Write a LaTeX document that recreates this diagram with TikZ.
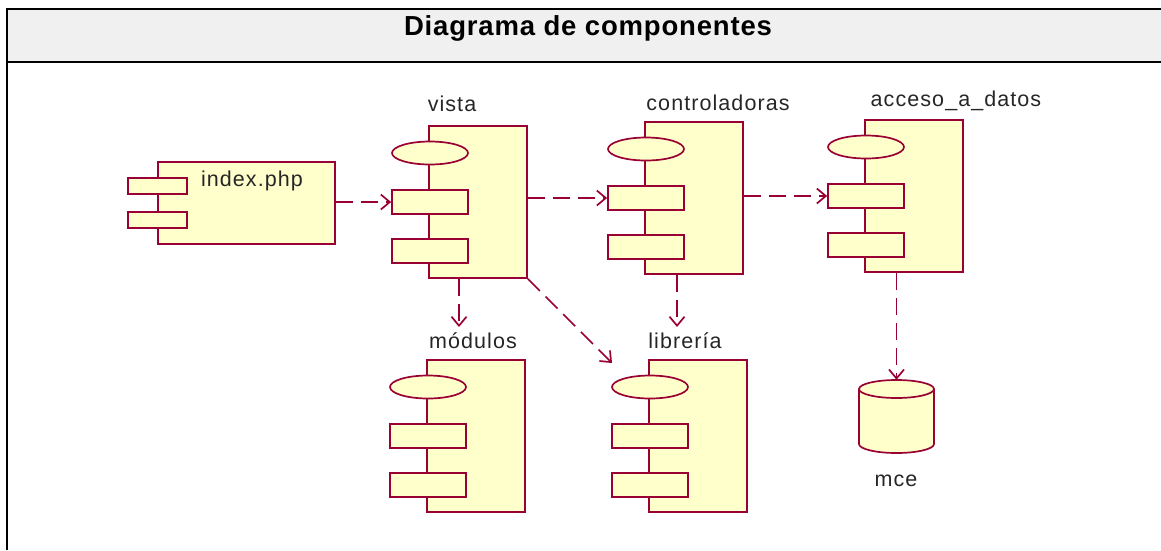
\documentclass[tikz,border=0pt]{standalone}
\usepackage{fontspec}
\setmainfont{Liberation Sans}
\usetikzlibrary{arrows.meta,shapes.geometric}
\definecolor{rose}{RGB}{153,0,51}
\definecolor{cfill}{RGB}{255,255,204}
\definecolor{hdr}{RGB}{240,240,240}
\tikzset{
  body/.style={rectangle, draw=rose, fill=cfill, line width=1.7pt, minimum width=98pt, minimum height=152pt, inner sep=0pt},
  port/.style={rectangle, draw=rose, fill=cfill, line width=1.7pt, minimum width=76pt, minimum height=24pt, inner sep=0pt},
  iface/.style={ellipse, draw=rose, fill=cfill, line width=1.7pt, minimum width=76pt, minimum height=23pt, inner sep=0pt},
  lbl/.style={font=\fontsize{21.5}{24}\selectfont\addfontfeature{LetterSpace=5}, inner sep=0pt, text=black!85},
  dep/.style={draw=rose, line width=1.7pt, dash pattern=on 17pt off 8pt, -{Straight Barb[length=9pt,width=15pt]}},
}
\newcommand\umlcomp[3]{%
  \node[body] (#1) at ({#2+49},{#3+76}) {};
  \node[iface] (#1-e) at ({#2+1},{#3+27}) {};
  \node[port] (#1-r1) at ({#2+1},{#3+76}) {};
  \node[port] (#1-r2) at ({#2+1},{#3+125}) {};
}
\begin{document}
\begin{tikzpicture}[x=1pt,y=-1pt]
\useasboundingbox (0,0) rectangle (1161,550);
% frame and header
\fill[hdr] (7,9) rectangle (1161,62);
\draw[line width=2pt] (1161,9) -- (7,9) -- (7,550);
\draw[line width=2pt] (7,62) -- (1161,62);
\node[font=\bfseries\fontsize{27.5}{30}\selectfont\addfontfeature{LetterSpace=3}, inner sep=0pt] (title) at (588,28) {Diagrama de componentes};

% index.php
\node[body, minimum width=177pt, minimum height=82pt] (index) at (246.5,203) {};
\node[port, minimum width=59pt, minimum height=16pt] (index-r1) at (157.5,186) {};
\node[port, minimum width=59pt, minimum height=16pt] (index-r2) at (157.5,220) {};
\node[lbl] (index-lbl) at (252,181) {index.php};

% components
\umlcomp{vista}{429}{126}
\node[lbl] (vista-lbl) at (452,104) {vista};
\umlcomp{contr}{645}{122}
\node[lbl] (contr-lbl) at (718,103) {controladoras};
\umlcomp{acc}{865}{120}
\node[lbl] (acc-lbl) at (956,101) {acceso\_a\_datos};
\umlcomp{mod}{427}{360}
\node[lbl] (mod-lbl) at (473,341) {módulos};
\umlcomp{lib}{649}{360}
\node[lbl] (lib-lbl) at (685,341) {librería};

% database mce
\node[draw=none, minimum width=75pt, minimum height=73pt, inner sep=0pt] (mce) at (896.5,416.5) {};
\filldraw[draw=rose, fill=cfill, line width=1.7pt]
  (859,389) -- (859,444) arc (180:0:37.5 and 9) -- (934,389) arc (0:-180:37.5 and 9) -- cycle;
\draw[draw=rose, line width=1.7pt] (859,389) arc (180:0:37.5 and 9);
\node[lbl] (mce-lbl) at (896,481) {mce};

% connectors
\coordinate (m-in) at (459,327);
\coordinate (l-in) at (677,327);
\coordinate (l-diag) at (612,363);
\draw[dep] (index.east |- vista-r1.west) -- (vista-r1.west);
\draw[dep] (vista.east |- contr-r1.west) -- (contr-r1.west);
\draw[dep] (contr.east |- acc-r1.west) -- (acc-r1.west);
\draw[dep] (vista.south -| m-in) -- (m-in);
\draw[dep] (vista.south east) -- (l-diag);
\draw[dep] (contr.south -| l-in) -- (l-in);
\draw[dep] (acc.south -| mce.north) -- (mce.north);
\end{tikzpicture}
\end{document}
